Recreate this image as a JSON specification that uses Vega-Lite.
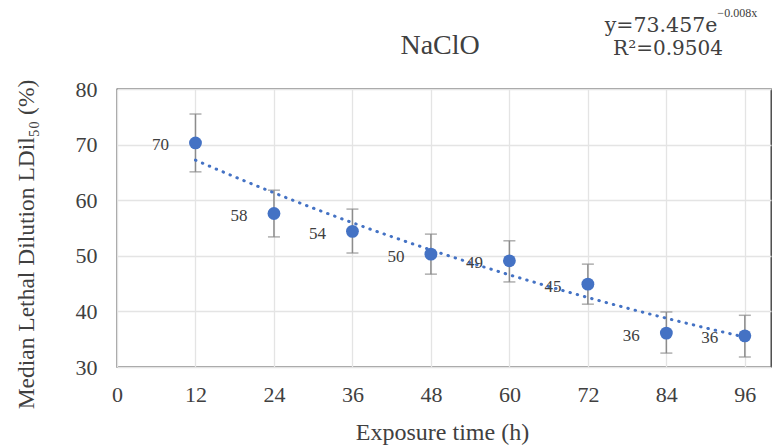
{
  "$schema": "https://vega.github.io/schema/vega-lite/v6.json",
  "width": 654,
  "height": 278,
  "autosize": {"type": "none"},
  "padding": {"left": 117, "top": 89, "right": 2, "bottom": 79},
  "background": "white",
  "data": {"values": [
    {"time": 12, "ldil": 70.3, "lo": 65.1, "hi": 75.5},
    {"time": 24, "ldil": 57.6, "lo": 53.4, "hi": 61.8},
    {"time": 36, "ldil": 54.4, "lo": 50.5, "hi": 58.4},
    {"time": 48, "ldil": 50.3, "lo": 46.7, "hi": 53.9},
    {"time": 60, "ldil": 49.1, "lo": 45.3, "hi": 52.7},
    {"time": 72, "ldil": 44.9, "lo": 41.3, "hi": 48.5},
    {"time": 84, "ldil": 36.1, "lo": 32.5, "hi": 39.9},
    {"time": 96, "ldil": 35.6, "lo": 31.8, "hi": 39.3}
  ]},
  "encoding": {
    "x": {"field": "time", "type": "quantitative",
      "scale": {"domain": [0, 100], "nice": false, "zero": false},
      "axis": {"values": [0, 12, 24, 36, 48, 60, 72, 84, 96], "title": "Exposure time (h)", "domain": false, "ticks": false, "labelFlush": false, "labelPadding": 17, "labelFontSize": 22, "titleFontSize": 24, "titleX": 325, "titleY": 65, "titleBaseline": "middle", "titleAlign": "center"}},
    "y": {"field": "ldil", "type": "quantitative",
      "scale": {"domain": [30, 80], "nice": false, "zero": false},
      "axis": {"values": [30, 40, 50, 60, 70, 80], "title": "Median Lethal Dilution LDil₅₀ (%)", "domain": false, "ticks": false, "labelFlush": false, "labelPadding": 20, "labelFontSize": 22, "titleFontSize": 23.5, "titleX": -91, "titleY": 155, "titleAngle": -90, "titleAlign": "center", "titleBaseline": "middle"}}
  },
  "layer": [
    {"mark": {"type": "rule", "color": "#8c8c8c", "strokeWidth": 1.5},
     "encoding": {"y": {"field": "lo", "type": "quantitative"}, "y2": {"field": "hi"}}},
    {"mark": {"type": "tick", "orient": "horizontal", "color": "#8c8c8c", "size": 12, "thickness": 1.5},
     "encoding": {"y": {"field": "lo", "type": "quantitative"}}},
    {"mark": {"type": "tick", "orient": "horizontal", "color": "#8c8c8c", "size": 12, "thickness": 1.5},
     "encoding": {"y": {"field": "hi", "type": "quantitative"}}},
    {"transform": [{"regression": "ldil", "on": "time", "method": "exp", "extent": [12, 96]}],
     "mark": {"type": "line", "color": "#4472C4", "strokeWidth": 3, "strokeDash": [0.5, 7], "strokeCap": "round"},
     "encoding": {}},
    {"mark": {"type": "circle", "color": "#4472C4", "size": 165, "opacity": 1}},
    {"mark": {"type": "text", "font": "Liberation Serif", "fontSize": 17, "color": "#404040", "dx": -35, "dy": 2.5, "baseline": "middle", "align": "center"},
     "encoding": {"text": {"field": "ldil", "type": "quantitative", "format": ".0f"}}},
    {"transform": [{"filter": "datum.time == 96"}],
     "mark": {"type": "text", "font": "Liberation Serif", "fontSize": 28, "color": "#404040", "align": "center", "baseline": "alphabetic", "text": "NaClO"},
     "encoding": {"x": {"datum": 49.4, "type": "quantitative"}, "y": {"datum": 86.3, "type": "quantitative"}}},
    {"transform": [{"filter": "datum.time == 96"}],
     "mark": {"type": "text", "font": "DejaVu Serif", "fontSize": 20.5, "color": "#404040", "align": "right", "baseline": "alphabetic", "text": "y=73.457e"},
     "encoding": {"x": {"datum": 91.8, "type": "quantitative"}, "y": {"datum": 90.25, "type": "quantitative"}}},
    {"transform": [{"filter": "datum.time == 96"}],
     "mark": {"type": "text", "font": "Liberation Serif", "fontSize": 12, "color": "#404040", "align": "left", "baseline": "alphabetic", "text": "−0.008x"},
     "encoding": {"x": {"datum": 91.8, "type": "quantitative"}, "y": {"datum": 92.9, "type": "quantitative"}}},
    {"transform": [{"filter": "datum.time == 96"}],
     "mark": {"type": "text", "font": "DejaVu Serif", "fontSize": 20, "color": "#404040", "align": "center", "baseline": "alphabetic", "text": "R²=0.9504"},
     "encoding": {"x": {"datum": 84.25, "type": "quantitative"}, "y": {"datum": 86.1, "type": "quantitative"}}}
  ],
  "config": {
    "view": {"stroke": "#333333", "strokeWidth": 1.3},
    "axis": {"labelFont": "Liberation Serif", "titleFont": "Liberation Serif", "labelColor": "#404040", "titleColor": "#404040", "titleFontWeight": "normal", "gridColor": "#e4e4e4", "gridWidth": 1.3}
  }
}
